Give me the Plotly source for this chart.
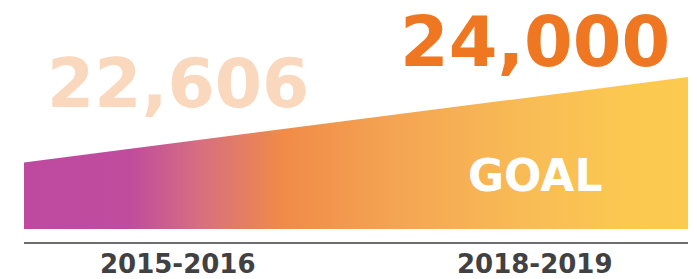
import plotly.graph_objects as go

PERIODS = ["2015-2016", "2018-2019"]
VALUES = [22606, 24000]
VALUE_LABELS = ["22,606", "24,000"]
GOAL_LABEL = "GOAL"

# axis geometry (category positions at 0 and 1)
X_MIN, X_MAX = -0.431, 1.429
Y_MIN, Y_MAX = 21310, 25254
Y_BASE = 21522

grad = [
    [0.0, "#BD4AA0"], [0.16, "#C04C9E"], [0.27, "#D8707F"], [0.39, "#F08B48"],
    [0.55, "#F4A352"], [0.75, "#F8BB55"], [0.92, "#FCC950"], [1.0, "#FCCA50"],
]

fig = go.Figure()
fig.add_trace(go.Scatter(
    x=[X_MIN, X_MAX, X_MAX, X_MIN, X_MIN],
    y=[VALUES[0], VALUES[1], Y_BASE, Y_BASE, VALUES[0]],
    mode="lines", line=dict(width=0), fill="toself",
    fillgradient=dict(type="horizontal", colorscale=grad),
    hoverinfo="skip", showlegend=False,
))

FONT = "DejaVu Sans"
plot_h = 242.3


def py(px):
    return (plot_h - px) / plot_h


def note(x, ypx, text, size, color):
    fig.add_annotation(x=x, y=py(ypx), xref="x", yref="paper", text=text, showarrow=False,
                       xanchor="center", yanchor="middle",
                       font=dict(family=FONT, size=size, color=color, weight="bold"))


note(0, 84, VALUE_LABELS[0], 68, "#FAD8BE")
note(1, 42, VALUE_LABELS[1], 70, "#F07722")
note(1, 176, GOAL_LABEL, 44, "#FFFFFF")
note(0, 264, PERIODS[0], 26, "#414042")
note(1, 264, PERIODS[1], 26, "#414042")

fig.update_layout(
    width=697, height=279,
    margin=dict(l=24, r=9, t=0, b=279 - 242.3),
    paper_bgcolor="white", plot_bgcolor="white",
    xaxis=dict(range=[X_MIN, X_MAX], tickvals=[0, 1], ticktext=PERIODS, showticklabels=False,
               automargin=False, showgrid=False, zeroline=False, showline=True,
               linecolor="#6D6E71", linewidth=1.5, ticks=""),
    yaxis=dict(range=[Y_MIN, Y_MAX], visible=False, automargin=False),
)

fig.write_html("out.html", config={"displayModeBar": False},
               post_script="document.body.style.margin='0';")
